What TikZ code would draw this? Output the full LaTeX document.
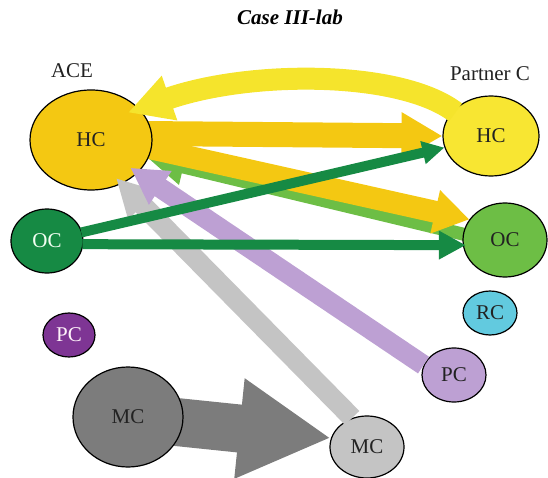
\documentclass[tikz,border=0pt]{standalone}
\usepackage{fontspec}
\setmainfont{Liberation Serif}
\usetikzlibrary{arrows.meta,shapes.geometric}

\definecolor{goldHC}{HTML}{F4C812}
\definecolor{yellowHC}{HTML}{F8E632}
\definecolor{curveY}{HTML}{F5E42C}
\definecolor{darkG}{HTML}{168A44}
\definecolor{lightG}{HTML}{6DBE45}
\definecolor{skyRC}{HTML}{62CADF}
\definecolor{deepP}{HTML}{7E3594}
\definecolor{softP}{HTML}{BDA0D3}
\definecolor{darkGr}{HTML}{7C7C7C}
\definecolor{lightGr}{HTML}{C4C4C4}
\definecolor{ink}{HTML}{222222}

\pgfdeclarelayer{back}
\pgfdeclarelayer{front}
\pgfsetlayers{back,main,front}

\tikzset{
  blob/.style={ellipse, draw=black, line width=1.2pt, inner sep=0pt,
    text=ink, font=\fontsize{21}{21}\selectfont},
  caption/.style={text=ink, font=\fontsize{21}{21}\selectfont},
  heading/.style={text=black, font=\fontsize{21}{21}\selectfont\bfseries\itshape},
  fat/.style n args={3}{line width=#1, -{Triangle[width=#2,length=#3]}},
}

\begin{document}
\begin{tikzpicture}[x=1pt,y=-1pt]
\useasboundingbox (0,0) rectangle (548,478);

% headings
\node[heading] (title) at (290,17) {Case III-lab};
\node[caption] (ace) at (72,71) {ACE};
\node[caption] (partner) at (490,74) {Partner C};

% capitals of ACE
\node[blob, fill=goldHC, minimum width=122pt, minimum height=100pt] (aHC) at (91,140) {HC};
\node[blob, fill=darkG, text=green!5, minimum width=72pt, minimum height=64pt] (aOC) at (47,241) {OC};
\node[blob, fill=deepP, text=magenta!5, minimum width=52pt, minimum height=44pt] (aPC) at (69,335) {PC};
\node[blob, fill=darkGr, minimum width=110pt, minimum height=100pt] (aMC) at (128,417) {MC};

% capitals of Partner C
\node[blob, fill=yellowHC, minimum width=96pt, minimum height=80pt] (pHC) at (491,136) {HC};
\node[blob, fill=lightG, minimum width=84pt, minimum height=74pt] (pOC) at (505,240) {OC};
\node[blob, fill=skyRC, minimum width=54pt, minimum height=44pt] (pRC) at (490,313) {RC};
\node[blob, fill=softP, minimum width=64pt, minimum height=54pt] (pPC) at (454,375) {PC};
\node[blob, fill=lightGr, minimum width=74pt, minimum height=62pt] (pMC) at (367,447) {MC};

% flows drawn behind the capitals
\begin{pgfonlayer}{back}
  \draw[fat={48pt}{94pt}{92pt}, darkGr] (aMC.center) -- (pMC.166);
  \draw[fat={13pt}{34pt}{36pt}, lightG, shorten <=-8pt] (pOC.172) -- (aHC.-18);
  \draw[fat={25pt}{44pt}{41pt}, goldHC, shorten <=-8pt] (aHC.6) -- (pHC.west);
  \draw[fat={22pt}{42pt}{35pt}, goldHC, shorten <=-8pt] (aHC.-8) -- (pOC.150);
\end{pgfonlayer}

% flows drawn over the capitals
\begin{pgfonlayer}{front}
  \draw[fat={20pt}{38pt}{38pt}, lightGr, shorten >=-8pt] (pMC.117) -- (aHC.-55);
  \draw[fat={20pt}{38pt}{36pt}, softP, shorten >=-9pt] (pPC.162) -- (aHC.-35);
  \draw[fat={10pt}{22pt}{22pt}, darkG, shorten <=-1pt] (aOC.14) -- (pHC.194);
  \draw[fat={10pt}{27pt}{27pt}, darkG, shorten <=-1pt, shorten >=-3pt] (aOC.-5) -- (pOC.187);
  \draw[fat={22pt}{44pt}{44pt}, curveY, shorten <=-3pt, shorten >=-12pt]
    (pHC.146) .. controls (400,70) and (250,70) .. (aHC.33);
\end{pgfonlayer}
\end{tikzpicture}
\end{document}
